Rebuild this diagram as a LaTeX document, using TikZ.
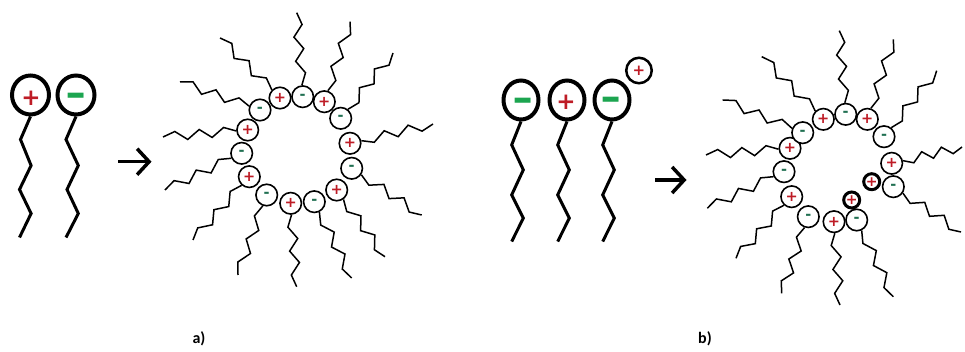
\documentclass[tikz,border=0pt]{standalone}
\usepackage{fontspec}
\setmainfont{Carlito}
\newfontfamily\signfont{DejaVu Sans}
\usetikzlibrary{calc,arrows.meta,shapes.geometric}
\definecolor{plusred}{RGB}{190,28,38}
\definecolor{minusgreen}{RGB}{28,165,80}
\definecolor{minusteal}{RGB}{32,112,82}

\begin{document}
\begin{tikzpicture}[x=1pt,y=-1pt,
  bighead/.style={ellipse, draw, line width=4pt, inner sep=0pt},
  bigtail/.style={line width=3pt, line join=miter},
  bigplus/.style={text=plusred, inner sep=0pt, font=\signfont\bfseries\fontsize{23}{23}\selectfont},
  bigminus/.style={text=minusgreen, inner sep=0pt, font=\signfont\bfseries\fontsize{22}{22}\selectfont},
  ion/.style={circle, draw, line width=2.5pt, minimum size=25.5pt, inner sep=0pt, text=plusred,
    font=\signfont\bfseries\fontsize{15}{15}\selectfont},
  mhead/.style={circle, draw, fill=white, line width=1.6pt, minimum size=21.5pt, inner sep=0pt,
    font=\signfont\bfseries\fontsize{14.5}{14.5}\selectfont},
  boldion/.style={circle, draw, line width=3pt, minimum size=16pt, inner sep=0pt, text=plusred,
    font=\signfont\bfseries\fontsize{14}{14}\selectfont},
  posq/.style={text=plusred},
  negq/.style={text=minusteal},
  tail/.style={line width=1.5pt, line join=miter},
  reactarrow/.style={line width=3.5pt, -{Straight Barb[length=12pt,width=26pt]}},
  lab/.style={font=\bfseries\fontsize{16}{19}\selectfont, inner sep=0pt}
]
\useasboundingbox (0,0) rectangle (965,352);

% ---------- a) two single surfactants ----------
\node[bighead, minimum width=37pt, minimum height=39pt] (ha) at (30.5,95) {};
\node[bighead, minimum width=37pt, minimum height=39pt] (hb) at (76,95) {};
\node[bigplus] (sa) at (31,98.5) {+};
\node[bigminus] (sb) at (76.5,101) {\scalebox{1.15}[2.0]{−}};
\draw[bigtail] (ha.south) -- ++(-10,23) -- ++(10.6,26) -- ++(-11.6,24) -- ++(11.6,24) -- ++(-11.6,24);
\draw[bigtail] (hb.south) -- ++(-10,23) -- ++(12.3,26) -- ++(-11.3,24) -- ++(11.3,24) -- ++(-12.3,24);

\coordinate (a1s) at (118,161.7);
\coordinate (a1e) at (151.5,161.7);
\draw[reactarrow] (a1s) -- (a1e);

% ---------- a) micelle ----------
\foreach \n/\x/\y/\s/\t/\ex/\ey in {
  1/280/98/posq/+/220/38,
  2/302.7/96.7/negq/-/296.7/12.7,
  3/324.3/101.7/posq/+/350/21.7,
  4/340.7/118.3/negq/-/393/53,
  5/350/143.3/posq/+/433/124,
  6/351.7/168.3/negq/-/421.7/215,
  7/336.7/190/posq/+/385/256.7,
  8/314.3/201.7/negq/-/351.7/278,
  9/290.7/203.3/posq/+/296.7/286.7,
  10/266.7/195/negq/-/238/275,
  11/249.3/176.7/posq/+/193/240,
  12/241.7/153.3/negq/-/165/190,
  13/247.7/130/posq/+/163/137,
  14/260/110/negq/-/180/82}{
  \node[mhead,\s] (L\n) at (\x,\y) {\t};
  \coordinate (LE\n) at (\ex,\ey);
  \coordinate (LS\n) at ($(L\n)!11.6pt!(LE\n)$);
  \draw[tail] (LS\n) \foreach \k [evaluate=\k as \ang using {90-180*mod(\k,2)}] in {1,...,5}
    { -- ($(LS\n)!\k/6!(LE\n)!4.5pt!\ang:(LE\n)$) } -- (LE\n);
}

% ---------- b) three surfactants and a free ion ----------
\node[bighead, minimum width=35pt, minimum height=39pt] (hc) at (521,100) {};
\node[bighead, minimum width=35pt, minimum height=39pt] (hd) at (567,100) {};
\node[bighead, minimum width=35pt, minimum height=39pt] (he) at (612,100) {};
\node[bigminus] (sc) at (523.5,106) {\scalebox{1.15}[2.0]{−}};
\node[bigplus] (sd) at (566,102.5) {+};
\node[bigminus] (se) at (611,105) {\scalebox{1.15}[2.0]{−}};
\node[ion] (fi) at (639,70.5) {+};
\draw[bigtail] (hc.south) -- ++(-9.3,23.4) -- ++(11.6,25) -- ++(-11.6,25) -- ++(11.6,23.3) -- ++(-11.6,23.3);
\draw[bigtail] (hd.south) -- ++(-9.3,23.4) -- ++(11.6,25) -- ++(-11.6,25) -- ++(11.6,23.3) -- ++(-11.6,23.3);
\draw[bigtail] (he.south) -- ++(-9.3,23.4) -- ++(11.6,25) -- ++(-11.6,25) -- ++(11.6,23.3) -- ++(-11.6,23.3);

\coordinate (a2s) at (655,180);
\coordinate (a2e) at (686.5,180);
\draw[reactarrow] (a2s) -- (a2e);

% ---------- b) micelle with bound ions ----------
\foreach \n/\x/\y/\s/\t/\ex/\ey in {
  1/823.3/119.3/posq/+/761.7/56.7,
  2/845.7/114.3/negq/-/839.3/30.7,
  3/867.3/119.3/posq/+/893.3/39.3,
  4/884/136.7/negq/-/936.7/70.7,
  5/891.7/163.3/posq/+/962/147,
  6/893.3/186.7/negq/-/961/232,
  7/856.7/220/negq/-/893.3/296.7,
  8/834/221.7/posq/+/840/305,
  9/808.3/216.7/negq/-/781.7/293.3,
  10/791.7/196.7/posq/+/736/258.3,
  11/784/171.7/negq/-/707.3/208.3,
  12/790/148.3/posq/+/706/155,
  13/802.7/132.7/negq/-/722.7/100}{
  \node[mhead,\s] (R\n) at (\x,\y) {\t};
  \coordinate (RE\n) at (\ex,\ey);
  \coordinate (RS\n) at ($(R\n)!11.6pt!(RE\n)$);
  \draw[tail] (RS\n) \foreach \k [evaluate=\k as \ang using {90-180*mod(\k,2)}] in {1,...,5}
    { -- ($(RS\n)!\k/6!(RE\n)!4.5pt!\ang:(RE\n)$) } -- (RE\n);
}
\node[boldion] (B1) at (871.7,181.7) {+};
\node[boldion] (B2) at (851.7,200) {+};

% ---------- captions ----------
\node[lab] (la) at (199,339) {a)};
\node[lab] (lb) at (705,339) {b)};
\end{tikzpicture}
\end{document}
